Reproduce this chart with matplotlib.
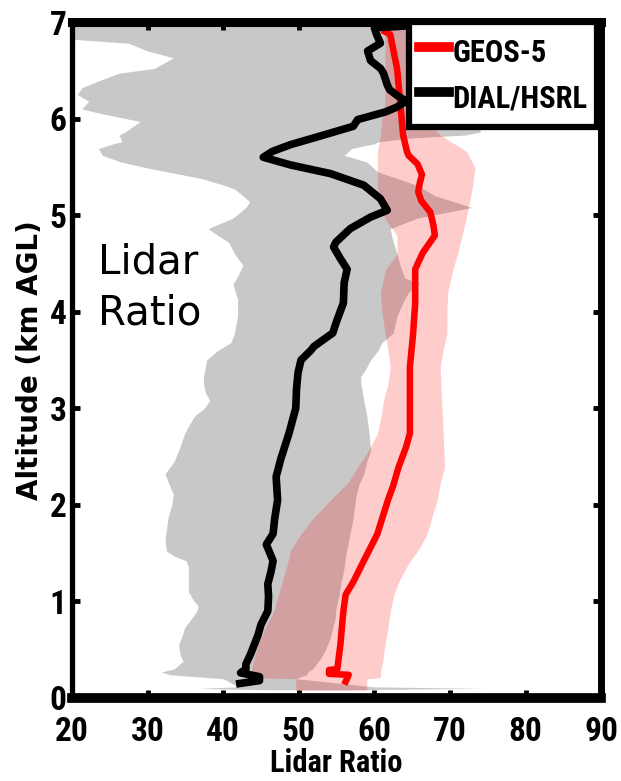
import numpy as np
import matplotlib
matplotlib.use("Agg")
from matplotlib import pyplot as plt
from matplotlib import font_manager as fm

# DIAL/HSRL mean lidar ratio profile (km AGL vs sr)
dial_alt = [0.15, 0.18, 0.22, 0.26, 0.30, 0.35, 0.45, 0.55, 0.65, 0.76, 0.90, 1.05, 1.18, 1.30,
            1.42, 1.59, 1.70, 1.85, 2.05, 2.29, 2.47, 2.74, 3.00, 3.20, 3.37, 3.50, 3.60, 3.64,
            3.78, 3.90, 4.09, 4.30, 4.44, 4.55, 4.67, 4.72, 4.86, 4.98, 5.05, 5.17, 5.31, 5.43,
            5.52, 5.60, 5.66, 5.73, 5.83, 5.92, 5.99, 6.07, 6.12, 6.18, 6.24, 6.30, 6.35, 6.47,
            6.52, 6.60, 6.70, 6.78, 6.87, 6.94, 6.96]
dial_lr = [42.2, 44.8, 44.8, 42.3, 43.0, 43.0, 43.6, 44.1, 44.6, 45.0, 45.9, 46.0, 45.9, 46.3,
           46.6, 45.7, 46.6, 46.8, 47.2, 47.0, 47.6, 48.7, 49.6, 49.7, 49.9, 50.3, 51.6, 52.0,
           54.5, 55.0, 55.9, 56.0, 56.4, 55.5, 54.6, 54.9, 56.8, 59.5, 61.7, 60.8, 58.6, 54.2,
           48.9, 45.3, 46.5, 48.9, 53.3, 57.2, 57.8, 61.5, 63.0, 64.2, 63.0, 62.0, 61.7, 61.2,
           60.8, 59.5, 59.1, 60.8, 60.3, 60.0, 64.5]

# DIAL/HSRL spread
dial_band_alt = [0.085, 0.10, 0.115, 0.20, 0.24, 0.27, 0.30, 0.38, 0.45, 0.55, 0.63, 0.73, 0.82,
                 0.90, 0.95, 1.02, 1.10, 1.20, 1.35, 1.42, 1.47, 1.52, 1.63, 1.75, 1.87, 2.00,
                 2.11, 2.22, 2.32, 2.45, 2.56, 2.74, 2.80, 2.92, 3.00, 3.08, 3.17, 3.26, 3.33,
                 3.40, 3.50, 3.60, 3.68, 3.78, 3.96, 4.13, 4.20, 4.29, 4.35, 4.48, 4.60, 4.72,
                 4.78, 4.86, 4.97, 5.08, 5.14, 5.20, 5.27, 5.30, 5.38, 5.45, 5.48, 5.55, 5.62,
                 5.69, 5.74, 5.76, 5.80, 5.83, 5.86, 5.97, 6.05, 6.10, 6.18, 6.25, 6.32, 6.39,
                 6.47, 6.52, 6.63, 6.70, 6.78, 6.82, 6.85, 7.00]
dial_band_lo = [46.0, 36.7, 42.0, 40.0, 33.0, 31.8, 33.5, 34.7, 34.3, 34.1, 34.5, 34.9, 35.8,
                36.5, 36.7, 36.0, 35.4, 35.4, 35.4, 35.1, 33.5, 32.5, 32.3, 32.5, 32.7, 33.2,
                33.4, 32.8, 32.3, 33.5, 34.1, 34.9, 35.3, 36.2, 37.5, 38.2, 37.6, 37.4, 37.4,
                37.6, 37.8, 39.3, 41.0, 41.5, 41.9, 41.9, 41.6, 41.3, 41.8, 42.6, 41.5, 40.7,
                39.5, 38.0, 41.3, 43.0, 43.5, 42.6, 41.5, 40.5, 37.1, 32.5, 30.5, 26.5, 24.0,
                23.5, 25.5, 26.6, 26.4, 26.2, 27.0, 29.0, 24.0, 21.3, 22.2, 20.7, 21.3, 23.5,
                26.2, 30.9, 33.4, 30.0, 27.5, 20.4, 20.0, 20.0]
dial_band_hi = [56.0, 74.2, 60.0, 49.6, 51.0, 51.2, 51.8, 52.6, 53.2, 53.8, 54.2, 54.5, 54.8,
                54.9, 55.0, 55.2, 55.4, 55.6, 56.0, 56.1, 56.2, 56.3, 56.6, 56.9, 57.2, 57.4,
                57.6, 58.0, 58.6, 59.0, 59.5, 59.3, 59.2, 59.0, 58.8, 58.6, 58.4, 58.2, 58.2,
                58.8, 59.5, 60.5, 61.0, 62.5, 63.0, 64.0, 64.5, 66.0, 64.0, 63.4, 63.0, 62.5,
                62.3, 62.1, 65.7, 72.9, 70.5, 68.0, 66.5, 66.0, 63.0, 60.4, 60.0, 59.0, 56.0,
                57.0, 60.0, 60.5, 65.0, 72.0, 74.0, 74.0, 74.0, 74.0, 74.0, 74.0, 74.0, 74.0,
                74.0, 74.0, 74.0, 74.0, 74.0, 74.0, 74.0, 74.0]

# GEOS-5 mean lidar ratio profile
geos_alt = [0.17, 0.24, 0.25, 0.29, 0.30, 0.55, 0.90, 1.07, 1.20, 1.42, 1.59, 1.70, 1.85, 2.05,
            2.20, 2.39, 2.60, 2.74, 3.08, 3.43, 3.75, 4.09, 4.44, 4.61, 4.79, 4.90, 5.03, 5.15,
            5.24, 5.33, 5.42, 5.53, 5.62, 5.66, 5.83, 6.18, 6.52, 6.87, 6.90]
geos_lr = [56.2, 56.6, 54.0, 54.0, 55.1, 55.5, 55.9, 56.2, 57.2, 58.6, 59.7, 60.4, 61.0, 61.8,
           62.5, 63.2, 64.2, 64.7, 64.7, 64.7, 65.1, 65.4, 65.4, 66.4, 68.0, 67.8, 67.4, 66.2,
           65.8, 66.0, 66.3, 65.7, 64.5, 64.3, 63.8, 63.4, 63.0, 62.1, 61.4]

# GEOS-5 spread
geos_band_alt = [0.08, 0.20, 0.21, 0.27, 0.38, 0.55, 0.73, 0.90, 1.07, 1.20, 1.39, 1.53, 1.70,
                 1.87, 2.05, 2.22, 2.39, 2.56, 2.74, 2.92, 3.08, 3.25, 3.43, 3.60, 3.78, 4.00,
                 4.20, 4.44, 4.60, 4.79, 4.95, 5.14, 5.31, 5.49, 5.66, 5.83, 6.00, 6.18, 6.50,
                 6.87, 6.95]
geos_band_lo = [49.6, 49.6, 43.7, 43.7, 44.0, 44.6, 45.6, 46.7, 47.3, 47.8, 48.5, 48.9, 50.3,
                52.0, 54.2, 56.4, 57.8, 59.2, 60.4, 60.9, 61.2, 61.8, 62.1, 61.8, 61.4, 61.0,
                60.8, 61.5, 63.0, 63.0, 61.5, 60.6, 60.4, 60.4, 60.4, 60.8, 61.0, 61.4, 61.4,
                61.4, 61.6]
geos_band_hi = [59.0, 59.0, 60.8, 60.8, 61.1, 61.4, 61.8, 62.1, 62.6, 63.2, 64.5, 65.8, 67.0,
                67.6, 68.3, 68.7, 69.3, 69.2, 69.1, 69.0, 68.9, 68.8, 68.7, 69.1, 69.6, 69.6,
                69.7, 70.4, 71.0, 71.6, 72.1, 72.6, 73.0, 73.3, 72.2, 68.7, 66.8, 65.4, 64.8,
                64.3, 64.0]


def have_font(name):
    try:
        fm.findfont(fm.FontProperties(family=name), fallback_to_default=False)
        return True
    except ValueError:
        return False


# condensed bold for ticks / legend if there is one
if have_font('Liberation Sans Narrow'):
    narrow, tsize, lsize, xsize = 'Liberation Sans Narrow', 25, 23, 23
elif have_font('Roboto Condensed'):
    narrow, tsize, lsize, xsize = 'Roboto Condensed', 24, 22, 22
else:
    narrow, tsize, lsize, xsize = 'Liberation Sans', 21, 19, 20

fig = plt.figure(figsize=(6.21, 7.81), dpi=100)
ax = fig.add_axes([0.116, 0.1063, 0.852, 0.8655])

ax.fill_betweenx(dial_band_alt, dial_band_lo, dial_band_hi, color='#c8c8c8', lw=0, zorder=1)
ax.fill_betweenx(geos_band_alt, geos_band_lo, geos_band_hi, color='red', alpha=0.2, lw=0, zorder=2)
ax.plot(geos_lr, geos_alt, color='red', lw=4.7, zorder=3, label='GEOS-5')
ax.plot(dial_lr, dial_alt, color='black', lw=5.5, zorder=4, label='DIAL/HSRL')

ax.set_xlim(20, 90)
ax.set_ylim(0, 7)
ax.set_xticks(np.arange(20, 91, 10))
ax.set_yticks(np.arange(0, 8, 1))
ax.tick_params(direction='in', length=6, width=3.5, top=True, right=True)
ax.tick_params(axis='x', pad=13)
ax.tick_params(axis='y', pad=4)
for lab in ax.get_xticklabels() + ax.get_yticklabels():
    lab.set_family(narrow)
    lab.set_fontweight('bold')
    lab.set_fontsize(tsize)
ax.spines['left'].set_linewidth(3.8)
ax.spines['right'].set_linewidth(5)
ax.spines['top'].set_linewidth(6.5)
ax.spines['bottom'].set_linewidth(7)

ax.set_xlabel('Lidar Ratio', family=narrow, fontweight='bold', fontsize=xsize, labelpad=0)
ax.set_ylabel('Altitude (km AGL)', family='DejaVu Sans', fontweight='bold', fontsize=20, labelpad=4)

ax.text(0.05, 0.607, 'Lidar\nRatio', transform=ax.transAxes, fontsize=29,
        family='DejaVu Sans', va='center', ha='left', linespacing=1.35)

h, l = ax.get_legend_handles_labels()
leg = ax.legend(h, l, loc='upper right', bbox_to_anchor=(0.993, 1.0), borderaxespad=0,
                prop={'family': narrow, 'weight': 'bold', 'size': lsize},
                fancybox=False, framealpha=1, edgecolor='black', handlelength=1.0,
                handleheight=1.6, handletextpad=0.1, labelspacing=0.2, borderpad=0.33)
leg.get_frame().set_linewidth(4.5)
for ln in leg.get_lines():
    ln.set_linewidth(7)
leg.set_zorder(10)

fig.savefig('out.png', dpi=100)
